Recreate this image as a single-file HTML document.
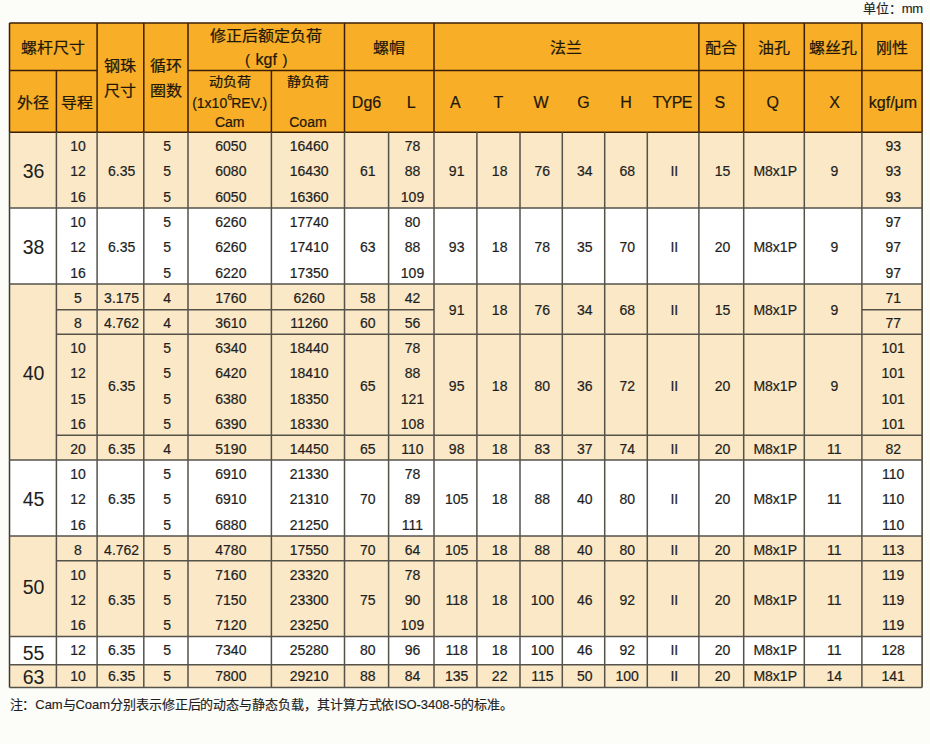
<!DOCTYPE html>
<html lang="zh-CN"><head><meta charset="utf-8"><title>table</title>
<style>
html,body{margin:0;padding:0;background:#FCFCF9;}
body{text-spacing-trim:space-all;width:930px;height:744px;position:relative;overflow:hidden;font-family:"Liberation Sans",sans-serif;}
svg{position:absolute;left:0;top:0;}
.t{position:absolute;display:flex;align-items:center;justify-content:center;white-space:nowrap;line-height:1;}
.t sup{font-size:9px;vertical-align:8px;line-height:0;margin:0 -1px 0 0;}
.t{-webkit-text-stroke:0.2px currentColor;}
.big{-webkit-text-stroke:0.05px currentColor;}
.c{-webkit-text-stroke:0.25px currentColor;transform:scaleY(0.93);}
.n{position:absolute;white-space:nowrap;}
</style></head><body>
<svg width="930" height="744" viewBox="0 0 930 744">
<rect x="9.50" y="23.00" width="912.60" height="109.20" fill="#F8AF27"/>
<rect x="9.50" y="132.25" width="912.60" height="75.70" fill="#FAE8C6"/>
<rect x="9.50" y="207.95" width="912.60" height="76.10" fill="#FFFFFF"/>
<rect x="9.50" y="284.05" width="912.60" height="175.90" fill="#FAE8C6"/>
<rect x="9.50" y="459.95" width="912.60" height="76.05" fill="#FFFFFF"/>
<rect x="9.50" y="536.00" width="912.60" height="100.55" fill="#FAE8C6"/>
<rect x="9.50" y="636.55" width="912.60" height="28.20" fill="#FFFFFF"/>
<rect x="9.50" y="664.75" width="912.60" height="22.80" fill="#FAE8C6"/>
<line x1="9.50" y1="23.00" x2="922.10" y2="23.00" stroke="#3a1e06" stroke-width="1.5"/>
<line x1="9.50" y1="70.40" x2="97.10" y2="70.40" stroke="#3a1e06" stroke-width="1.5"/>
<line x1="188.00" y1="70.40" x2="922.10" y2="70.40" stroke="#3a1e06" stroke-width="1.5"/>
<line x1="9.50" y1="23.00" x2="9.50" y2="132.20" stroke="#3a1e06" stroke-width="1.5"/>
<line x1="97.10" y1="23.00" x2="97.10" y2="132.20" stroke="#3a1e06" stroke-width="1.5"/>
<line x1="143.80" y1="23.00" x2="143.80" y2="132.20" stroke="#3a1e06" stroke-width="1.5"/>
<line x1="188.00" y1="23.00" x2="188.00" y2="132.20" stroke="#3a1e06" stroke-width="1.5"/>
<line x1="344.50" y1="23.00" x2="344.50" y2="132.20" stroke="#3a1e06" stroke-width="1.5"/>
<line x1="434.00" y1="23.00" x2="434.00" y2="132.20" stroke="#3a1e06" stroke-width="1.5"/>
<line x1="698.90" y1="23.00" x2="698.90" y2="132.20" stroke="#3a1e06" stroke-width="1.5"/>
<line x1="743.70" y1="23.00" x2="743.70" y2="132.20" stroke="#3a1e06" stroke-width="1.5"/>
<line x1="804.30" y1="23.00" x2="804.30" y2="132.20" stroke="#3a1e06" stroke-width="1.5"/>
<line x1="861.90" y1="23.00" x2="861.90" y2="132.20" stroke="#3a1e06" stroke-width="1.5"/>
<line x1="922.10" y1="23.00" x2="922.10" y2="132.20" stroke="#3a1e06" stroke-width="1.5"/>
<line x1="56.40" y1="70.40" x2="56.40" y2="132.20" stroke="#3a1e06" stroke-width="1.5"/>
<line x1="271.40" y1="70.40" x2="271.40" y2="132.20" stroke="#3a1e06" stroke-width="1.5"/>
<line x1="9.50" y1="132.20" x2="922.10" y2="132.20" stroke="#3a1e06" stroke-width="1.5"/>
<line x1="9.50" y1="132.25" x2="9.50" y2="687.55" stroke="#3d3a30" stroke-width="1.5"/>
<line x1="56.40" y1="132.25" x2="56.40" y2="687.55" stroke="#55524a" stroke-width="1.5"/>
<line x1="97.10" y1="132.25" x2="97.10" y2="687.55" stroke="#55524a" stroke-width="1.5"/>
<line x1="143.80" y1="132.25" x2="143.80" y2="687.55" stroke="#55524a" stroke-width="1.5"/>
<line x1="188.00" y1="132.25" x2="188.00" y2="687.55" stroke="#55524a" stroke-width="1.5"/>
<line x1="271.40" y1="132.25" x2="271.40" y2="687.55" stroke="#55524a" stroke-width="1.5"/>
<line x1="344.50" y1="132.25" x2="344.50" y2="687.55" stroke="#55524a" stroke-width="1.5"/>
<line x1="388.60" y1="132.25" x2="388.60" y2="687.55" stroke="#55524a" stroke-width="1.5"/>
<line x1="434.00" y1="132.25" x2="434.00" y2="687.55" stroke="#55524a" stroke-width="1.5"/>
<line x1="476.90" y1="132.25" x2="476.90" y2="687.55" stroke="#55524a" stroke-width="1.5"/>
<line x1="520.00" y1="132.25" x2="520.00" y2="687.55" stroke="#55524a" stroke-width="1.5"/>
<line x1="562.30" y1="132.25" x2="562.30" y2="687.55" stroke="#55524a" stroke-width="1.5"/>
<line x1="604.70" y1="132.25" x2="604.70" y2="687.55" stroke="#55524a" stroke-width="1.5"/>
<line x1="647.30" y1="132.25" x2="647.30" y2="687.55" stroke="#55524a" stroke-width="1.5"/>
<line x1="698.90" y1="132.25" x2="698.90" y2="687.55" stroke="#55524a" stroke-width="1.5"/>
<line x1="743.70" y1="132.25" x2="743.70" y2="687.55" stroke="#55524a" stroke-width="1.5"/>
<line x1="804.30" y1="132.25" x2="804.30" y2="687.55" stroke="#55524a" stroke-width="1.5"/>
<line x1="861.90" y1="132.25" x2="861.90" y2="687.55" stroke="#55524a" stroke-width="1.5"/>
<line x1="922.10" y1="132.25" x2="922.10" y2="687.55" stroke="#3d3a30" stroke-width="1.5"/>
<line x1="9.50" y1="207.95" x2="922.10" y2="207.95" stroke="#55524a" stroke-width="1.5"/>
<line x1="9.50" y1="284.05" x2="922.10" y2="284.05" stroke="#55524a" stroke-width="1.5"/>
<line x1="9.50" y1="459.95" x2="922.10" y2="459.95" stroke="#55524a" stroke-width="1.5"/>
<line x1="9.50" y1="536.00" x2="922.10" y2="536.00" stroke="#55524a" stroke-width="1.5"/>
<line x1="9.50" y1="636.55" x2="922.10" y2="636.55" stroke="#55524a" stroke-width="1.5"/>
<line x1="9.50" y1="664.75" x2="922.10" y2="664.75" stroke="#55524a" stroke-width="1.5"/>
<line x1="9.50" y1="687.55" x2="922.10" y2="687.55" stroke="#55524a" stroke-width="1.5"/>
<line x1="56.40" y1="309.65" x2="434.00" y2="309.65" stroke="#55524a" stroke-width="1.5"/>
<line x1="861.90" y1="309.65" x2="922.10" y2="309.65" stroke="#55524a" stroke-width="1.5"/>
<line x1="56.40" y1="334.25" x2="922.10" y2="334.25" stroke="#55524a" stroke-width="1.5"/>
<line x1="56.40" y1="435.15" x2="922.10" y2="435.15" stroke="#55524a" stroke-width="1.5"/>
<line x1="56.40" y1="560.75" x2="922.10" y2="560.75" stroke="#55524a" stroke-width="1.5"/>
</svg>
<div class="t c" style="left:9.50px;width:87.60px;top:32.80px;height:30px;font-size:16px;color:#22180a;"><span>螺杆尺寸</span></div>
<div class="t c" style="left:97.10px;width:46.70px;top:51.00px;height:30px;font-size:16px;color:#22180a;"><span>钢珠</span></div>
<div class="t c" style="left:97.10px;width:46.70px;top:75.50px;height:30px;font-size:16px;color:#22180a;"><span>尺寸</span></div>
<div class="t c" style="left:143.80px;width:44.20px;top:51.00px;height:30px;font-size:16px;color:#22180a;"><span>循环</span></div>
<div class="t c" style="left:143.80px;width:44.20px;top:75.50px;height:30px;font-size:16px;color:#22180a;"><span>圈数</span></div>
<div class="t c" style="left:188.00px;width:156.50px;top:21.30px;height:30px;font-size:16px;color:#22180a;"><span>修正后额定负荷</span></div>
<div class="t" style="left:188.00px;width:156.50px;top:45.20px;height:30px;font-size:16px;color:#22180a;"><span><i style="font-style:normal;font-size:15px">(</i><i style="font-style:normal;margin:0 5.5px">kgf</i><i style="font-style:normal;font-size:15px">)</i></span></div>
<div class="t c" style="left:344.50px;width:89.50px;top:32.80px;height:30px;font-size:16px;color:#22180a;"><span>螺帽</span></div>
<div class="t c" style="left:434.00px;width:264.90px;top:32.80px;height:30px;font-size:16px;color:#22180a;"><span>法兰</span></div>
<div class="t c" style="left:698.90px;width:44.80px;top:32.80px;height:30px;font-size:16px;color:#22180a;"><span>配合</span></div>
<div class="t c" style="left:743.70px;width:60.60px;top:32.80px;height:30px;font-size:16px;color:#22180a;"><span>油孔</span></div>
<div class="t c" style="left:804.30px;width:57.60px;top:32.80px;height:30px;font-size:16px;color:#22180a;"><span>螺丝孔</span></div>
<div class="t c" style="left:861.90px;width:60.20px;top:32.80px;height:30px;font-size:16px;color:#22180a;"><span>刚性</span></div>
<div class="t c" style="left:9.50px;width:46.90px;top:87.80px;height:30px;font-size:16px;color:#22180a;"><span>外径</span></div>
<div class="t c" style="left:56.40px;width:40.70px;top:87.80px;height:30px;font-size:16px;color:#22180a;"><span>导程</span></div>
<div class="t c" style="left:188.00px;width:83.40px;top:66.10px;height:30px;font-size:14px;color:#22180a;"><span>动负荷</span></div>
<div class="t c" style="left:271.40px;width:73.10px;top:66.10px;height:30px;font-size:14px;color:#22180a;"><span>静负荷</span></div>
<div class="t" style="left:188.00px;width:83.40px;top:88.20px;height:30px;font-size:14px;color:#22180a;"><span>(1x10<sup>6</sup>REV.)</span></div>
<div class="t" style="left:188.00px;width:83.40px;top:107.40px;height:30px;font-size:14px;color:#22180a;"><span>Cam</span></div>
<div class="t" style="left:271.40px;width:73.10px;top:107.40px;height:30px;font-size:14px;color:#22180a;"><span>Coam</span></div>
<div class="t" style="left:344.50px;width:44.10px;top:87.60px;height:30px;font-size:16px;color:#22180a;"><span>Dg6</span></div>
<div class="t" style="left:388.60px;width:45.40px;top:87.60px;height:30px;font-size:16px;color:#22180a;"><span>L</span></div>
<div class="t" style="left:434.00px;width:42.90px;top:87.60px;height:30px;font-size:16px;color:#22180a;"><span>A</span></div>
<div class="t" style="left:476.90px;width:43.10px;top:87.60px;height:30px;font-size:16px;color:#22180a;"><span>T</span></div>
<div class="t" style="left:520.00px;width:42.30px;top:87.60px;height:30px;font-size:16px;color:#22180a;"><span>W</span></div>
<div class="t" style="left:562.30px;width:42.40px;top:87.60px;height:30px;font-size:16px;color:#22180a;"><span>G</span></div>
<div class="t" style="left:604.70px;width:42.60px;top:87.60px;height:30px;font-size:16px;color:#22180a;"><span>H</span></div>
<div class="t" style="left:646.30px;width:51.60px;top:87.60px;height:30px;font-size:16px;color:#22180a;letter-spacing:-0.6px;"><span>TYPE</span></div>
<div class="t" style="left:697.40px;width:44.80px;top:87.60px;height:30px;font-size:16px;color:#22180a;"><span>S</span></div>
<div class="t" style="left:742.50px;width:60.60px;top:87.60px;height:30px;font-size:16px;color:#22180a;"><span>Q</span></div>
<div class="t" style="left:805.80px;width:57.60px;top:87.60px;height:30px;font-size:16px;color:#22180a;"><span>X</span></div>
<div class="t" style="left:862.90px;width:60.20px;top:87.60px;height:30px;font-size:16px;color:#22180a;"><span>kgf/μm</span></div>
<div class="t big" style="left:10.10px;width:46.90px;top:156.60px;height:30px;font-size:19.5px;color:#1e1e1e;"><span>36</span></div>
<div class="t big" style="left:10.10px;width:46.90px;top:232.50px;height:30px;font-size:19.5px;color:#1e1e1e;"><span>38</span></div>
<div class="t big" style="left:10.10px;width:46.90px;top:358.50px;height:30px;font-size:19.5px;color:#1e1e1e;"><span>40</span></div>
<div class="t big" style="left:10.10px;width:46.90px;top:484.48px;height:30px;font-size:19.5px;color:#1e1e1e;"><span>45</span></div>
<div class="t big" style="left:10.10px;width:46.90px;top:572.77px;height:30px;font-size:19.5px;color:#1e1e1e;"><span>50</span></div>
<div class="t big" style="left:10.10px;width:46.90px;top:638.65px;height:30px;font-size:19.5px;color:#1e1e1e;"><span>55</span></div>
<div class="t big" style="left:10.10px;width:46.90px;top:662.35px;height:30px;font-size:19.5px;color:#1e1e1e;"><span>63</span></div>
<div class="t" style="left:57.60px;width:40.70px;top:131.07px;height:30px;font-size:14px;color:#1e1e1e;"><span>10</span></div>
<div class="t" style="left:57.60px;width:40.70px;top:156.30px;height:30px;font-size:14px;color:#1e1e1e;"><span>12</span></div>
<div class="t" style="left:57.60px;width:40.70px;top:181.53px;height:30px;font-size:14px;color:#1e1e1e;"><span>16</span></div>
<div class="t" style="left:98.30px;width:46.70px;top:156.30px;height:30px;font-size:14px;color:#1e1e1e;"><span>6.35</span></div>
<div class="t" style="left:145.00px;width:44.20px;top:131.07px;height:30px;font-size:14px;color:#1e1e1e;"><span>5</span></div>
<div class="t" style="left:145.00px;width:44.20px;top:156.30px;height:30px;font-size:14px;color:#1e1e1e;"><span>5</span></div>
<div class="t" style="left:145.00px;width:44.20px;top:181.53px;height:30px;font-size:14px;color:#1e1e1e;"><span>5</span></div>
<div class="t" style="left:189.20px;width:83.40px;top:131.07px;height:30px;font-size:14px;color:#1e1e1e;"><span>6050</span></div>
<div class="t" style="left:189.20px;width:83.40px;top:156.30px;height:30px;font-size:14px;color:#1e1e1e;"><span>6080</span></div>
<div class="t" style="left:189.20px;width:83.40px;top:181.53px;height:30px;font-size:14px;color:#1e1e1e;"><span>6050</span></div>
<div class="t" style="left:272.60px;width:73.10px;top:131.07px;height:30px;font-size:14px;color:#1e1e1e;"><span>16460</span></div>
<div class="t" style="left:272.60px;width:73.10px;top:156.30px;height:30px;font-size:14px;color:#1e1e1e;"><span>16430</span></div>
<div class="t" style="left:272.60px;width:73.10px;top:181.53px;height:30px;font-size:14px;color:#1e1e1e;"><span>16360</span></div>
<div class="t" style="left:345.70px;width:44.10px;top:156.30px;height:30px;font-size:14px;color:#1e1e1e;"><span>61</span></div>
<div class="t" style="left:389.80px;width:45.40px;top:131.07px;height:30px;font-size:14px;color:#1e1e1e;"><span>78</span></div>
<div class="t" style="left:389.80px;width:45.40px;top:156.30px;height:30px;font-size:14px;color:#1e1e1e;"><span>88</span></div>
<div class="t" style="left:389.80px;width:45.40px;top:181.53px;height:30px;font-size:14px;color:#1e1e1e;"><span>109</span></div>
<div class="t" style="left:435.20px;width:42.90px;top:156.30px;height:30px;font-size:14px;color:#1e1e1e;"><span>91</span></div>
<div class="t" style="left:478.10px;width:43.10px;top:156.30px;height:30px;font-size:14px;color:#1e1e1e;"><span>18</span></div>
<div class="t" style="left:521.20px;width:42.30px;top:156.30px;height:30px;font-size:14px;color:#1e1e1e;"><span>76</span></div>
<div class="t" style="left:563.50px;width:42.40px;top:156.30px;height:30px;font-size:14px;color:#1e1e1e;"><span>34</span></div>
<div class="t" style="left:605.90px;width:42.60px;top:156.30px;height:30px;font-size:14px;color:#1e1e1e;"><span>68</span></div>
<div class="t" style="left:648.50px;width:51.60px;top:156.30px;height:30px;font-size:14px;color:#1e1e1e;"><span>II</span></div>
<div class="t" style="left:700.10px;width:44.80px;top:156.30px;height:30px;font-size:14px;color:#1e1e1e;"><span>15</span></div>
<div class="t" style="left:744.90px;width:60.60px;top:156.30px;height:30px;font-size:14px;color:#1e1e1e;"><span>M8x1P</span></div>
<div class="t" style="left:805.50px;width:57.60px;top:156.30px;height:30px;font-size:14px;color:#1e1e1e;"><span>9</span></div>
<div class="t" style="left:863.10px;width:60.20px;top:131.07px;height:30px;font-size:14px;color:#1e1e1e;"><span>93</span></div>
<div class="t" style="left:863.10px;width:60.20px;top:156.30px;height:30px;font-size:14px;color:#1e1e1e;"><span>93</span></div>
<div class="t" style="left:863.10px;width:60.20px;top:181.53px;height:30px;font-size:14px;color:#1e1e1e;"><span>93</span></div>
<div class="t" style="left:57.60px;width:40.70px;top:206.83px;height:30px;font-size:14px;color:#1e1e1e;"><span>10</span></div>
<div class="t" style="left:57.60px;width:40.70px;top:232.20px;height:30px;font-size:14px;color:#1e1e1e;"><span>12</span></div>
<div class="t" style="left:57.60px;width:40.70px;top:257.57px;height:30px;font-size:14px;color:#1e1e1e;"><span>16</span></div>
<div class="t" style="left:98.30px;width:46.70px;top:232.20px;height:30px;font-size:14px;color:#1e1e1e;"><span>6.35</span></div>
<div class="t" style="left:145.00px;width:44.20px;top:206.83px;height:30px;font-size:14px;color:#1e1e1e;"><span>5</span></div>
<div class="t" style="left:145.00px;width:44.20px;top:232.20px;height:30px;font-size:14px;color:#1e1e1e;"><span>5</span></div>
<div class="t" style="left:145.00px;width:44.20px;top:257.57px;height:30px;font-size:14px;color:#1e1e1e;"><span>5</span></div>
<div class="t" style="left:189.20px;width:83.40px;top:206.83px;height:30px;font-size:14px;color:#1e1e1e;"><span>6260</span></div>
<div class="t" style="left:189.20px;width:83.40px;top:232.20px;height:30px;font-size:14px;color:#1e1e1e;"><span>6260</span></div>
<div class="t" style="left:189.20px;width:83.40px;top:257.57px;height:30px;font-size:14px;color:#1e1e1e;"><span>6220</span></div>
<div class="t" style="left:272.60px;width:73.10px;top:206.83px;height:30px;font-size:14px;color:#1e1e1e;"><span>17740</span></div>
<div class="t" style="left:272.60px;width:73.10px;top:232.20px;height:30px;font-size:14px;color:#1e1e1e;"><span>17410</span></div>
<div class="t" style="left:272.60px;width:73.10px;top:257.57px;height:30px;font-size:14px;color:#1e1e1e;"><span>17350</span></div>
<div class="t" style="left:345.70px;width:44.10px;top:232.20px;height:30px;font-size:14px;color:#1e1e1e;"><span>63</span></div>
<div class="t" style="left:389.80px;width:45.40px;top:206.83px;height:30px;font-size:14px;color:#1e1e1e;"><span>80</span></div>
<div class="t" style="left:389.80px;width:45.40px;top:232.20px;height:30px;font-size:14px;color:#1e1e1e;"><span>88</span></div>
<div class="t" style="left:389.80px;width:45.40px;top:257.57px;height:30px;font-size:14px;color:#1e1e1e;"><span>109</span></div>
<div class="t" style="left:435.20px;width:42.90px;top:232.20px;height:30px;font-size:14px;color:#1e1e1e;"><span>93</span></div>
<div class="t" style="left:478.10px;width:43.10px;top:232.20px;height:30px;font-size:14px;color:#1e1e1e;"><span>18</span></div>
<div class="t" style="left:521.20px;width:42.30px;top:232.20px;height:30px;font-size:14px;color:#1e1e1e;"><span>78</span></div>
<div class="t" style="left:563.50px;width:42.40px;top:232.20px;height:30px;font-size:14px;color:#1e1e1e;"><span>35</span></div>
<div class="t" style="left:605.90px;width:42.60px;top:232.20px;height:30px;font-size:14px;color:#1e1e1e;"><span>70</span></div>
<div class="t" style="left:648.50px;width:51.60px;top:232.20px;height:30px;font-size:14px;color:#1e1e1e;"><span>II</span></div>
<div class="t" style="left:700.10px;width:44.80px;top:232.20px;height:30px;font-size:14px;color:#1e1e1e;"><span>20</span></div>
<div class="t" style="left:744.90px;width:60.60px;top:232.20px;height:30px;font-size:14px;color:#1e1e1e;"><span>M8x1P</span></div>
<div class="t" style="left:805.50px;width:57.60px;top:232.20px;height:30px;font-size:14px;color:#1e1e1e;"><span>9</span></div>
<div class="t" style="left:863.10px;width:60.20px;top:206.83px;height:30px;font-size:14px;color:#1e1e1e;"><span>97</span></div>
<div class="t" style="left:863.10px;width:60.20px;top:232.20px;height:30px;font-size:14px;color:#1e1e1e;"><span>97</span></div>
<div class="t" style="left:863.10px;width:60.20px;top:257.57px;height:30px;font-size:14px;color:#1e1e1e;"><span>97</span></div>
<div class="t" style="left:57.60px;width:40.70px;top:283.05px;height:30px;font-size:14px;color:#1e1e1e;"><span>5</span></div>
<div class="t" style="left:57.60px;width:40.70px;top:308.15px;height:30px;font-size:14px;color:#1e1e1e;"><span>8</span></div>
<div class="t" style="left:98.30px;width:46.70px;top:283.05px;height:30px;font-size:14px;color:#1e1e1e;"><span>3.175</span></div>
<div class="t" style="left:98.30px;width:46.70px;top:308.15px;height:30px;font-size:14px;color:#1e1e1e;"><span>4.762</span></div>
<div class="t" style="left:145.00px;width:44.20px;top:283.05px;height:30px;font-size:14px;color:#1e1e1e;"><span>4</span></div>
<div class="t" style="left:145.00px;width:44.20px;top:308.15px;height:30px;font-size:14px;color:#1e1e1e;"><span>4</span></div>
<div class="t" style="left:189.20px;width:83.40px;top:283.05px;height:30px;font-size:14px;color:#1e1e1e;"><span>1760</span></div>
<div class="t" style="left:189.20px;width:83.40px;top:308.15px;height:30px;font-size:14px;color:#1e1e1e;"><span>3610</span></div>
<div class="t" style="left:272.60px;width:73.10px;top:283.05px;height:30px;font-size:14px;color:#1e1e1e;"><span>6260</span></div>
<div class="t" style="left:272.60px;width:73.10px;top:308.15px;height:30px;font-size:14px;color:#1e1e1e;"><span>11260</span></div>
<div class="t" style="left:345.70px;width:44.10px;top:283.05px;height:30px;font-size:14px;color:#1e1e1e;"><span>58</span></div>
<div class="t" style="left:345.70px;width:44.10px;top:308.15px;height:30px;font-size:14px;color:#1e1e1e;"><span>60</span></div>
<div class="t" style="left:389.80px;width:45.40px;top:283.05px;height:30px;font-size:14px;color:#1e1e1e;"><span>42</span></div>
<div class="t" style="left:389.80px;width:45.40px;top:308.15px;height:30px;font-size:14px;color:#1e1e1e;"><span>56</span></div>
<div class="t" style="left:435.20px;width:42.90px;top:295.35px;height:30px;font-size:14px;color:#1e1e1e;"><span>91</span></div>
<div class="t" style="left:478.10px;width:43.10px;top:295.35px;height:30px;font-size:14px;color:#1e1e1e;"><span>18</span></div>
<div class="t" style="left:521.20px;width:42.30px;top:295.35px;height:30px;font-size:14px;color:#1e1e1e;"><span>76</span></div>
<div class="t" style="left:563.50px;width:42.40px;top:295.35px;height:30px;font-size:14px;color:#1e1e1e;"><span>34</span></div>
<div class="t" style="left:605.90px;width:42.60px;top:295.35px;height:30px;font-size:14px;color:#1e1e1e;"><span>68</span></div>
<div class="t" style="left:648.50px;width:51.60px;top:295.35px;height:30px;font-size:14px;color:#1e1e1e;"><span>II</span></div>
<div class="t" style="left:700.10px;width:44.80px;top:295.35px;height:30px;font-size:14px;color:#1e1e1e;"><span>15</span></div>
<div class="t" style="left:744.90px;width:60.60px;top:295.35px;height:30px;font-size:14px;color:#1e1e1e;"><span>M8x1P</span></div>
<div class="t" style="left:805.50px;width:57.60px;top:295.35px;height:30px;font-size:14px;color:#1e1e1e;"><span>9</span></div>
<div class="t" style="left:863.10px;width:60.20px;top:283.05px;height:30px;font-size:14px;color:#1e1e1e;"><span>71</span></div>
<div class="t" style="left:863.10px;width:60.20px;top:308.15px;height:30px;font-size:14px;color:#1e1e1e;"><span>77</span></div>
<div class="t" style="left:57.60px;width:40.70px;top:333.06px;height:30px;font-size:14px;color:#1e1e1e;"><span>10</span></div>
<div class="t" style="left:57.60px;width:40.70px;top:358.29px;height:30px;font-size:14px;color:#1e1e1e;"><span>12</span></div>
<div class="t" style="left:57.60px;width:40.70px;top:383.51px;height:30px;font-size:14px;color:#1e1e1e;"><span>15</span></div>
<div class="t" style="left:57.60px;width:40.70px;top:408.74px;height:30px;font-size:14px;color:#1e1e1e;"><span>16</span></div>
<div class="t" style="left:98.30px;width:46.70px;top:370.90px;height:30px;font-size:14px;color:#1e1e1e;"><span>6.35</span></div>
<div class="t" style="left:145.00px;width:44.20px;top:333.06px;height:30px;font-size:14px;color:#1e1e1e;"><span>5</span></div>
<div class="t" style="left:145.00px;width:44.20px;top:358.29px;height:30px;font-size:14px;color:#1e1e1e;"><span>5</span></div>
<div class="t" style="left:145.00px;width:44.20px;top:383.51px;height:30px;font-size:14px;color:#1e1e1e;"><span>5</span></div>
<div class="t" style="left:145.00px;width:44.20px;top:408.74px;height:30px;font-size:14px;color:#1e1e1e;"><span>5</span></div>
<div class="t" style="left:189.20px;width:83.40px;top:333.06px;height:30px;font-size:14px;color:#1e1e1e;"><span>6340</span></div>
<div class="t" style="left:189.20px;width:83.40px;top:358.29px;height:30px;font-size:14px;color:#1e1e1e;"><span>6420</span></div>
<div class="t" style="left:189.20px;width:83.40px;top:383.51px;height:30px;font-size:14px;color:#1e1e1e;"><span>6380</span></div>
<div class="t" style="left:189.20px;width:83.40px;top:408.74px;height:30px;font-size:14px;color:#1e1e1e;"><span>6390</span></div>
<div class="t" style="left:272.60px;width:73.10px;top:333.06px;height:30px;font-size:14px;color:#1e1e1e;"><span>18440</span></div>
<div class="t" style="left:272.60px;width:73.10px;top:358.29px;height:30px;font-size:14px;color:#1e1e1e;"><span>18410</span></div>
<div class="t" style="left:272.60px;width:73.10px;top:383.51px;height:30px;font-size:14px;color:#1e1e1e;"><span>18350</span></div>
<div class="t" style="left:272.60px;width:73.10px;top:408.74px;height:30px;font-size:14px;color:#1e1e1e;"><span>18330</span></div>
<div class="t" style="left:345.70px;width:44.10px;top:370.90px;height:30px;font-size:14px;color:#1e1e1e;"><span>65</span></div>
<div class="t" style="left:389.80px;width:45.40px;top:333.06px;height:30px;font-size:14px;color:#1e1e1e;"><span>78</span></div>
<div class="t" style="left:389.80px;width:45.40px;top:358.29px;height:30px;font-size:14px;color:#1e1e1e;"><span>88</span></div>
<div class="t" style="left:389.80px;width:45.40px;top:383.51px;height:30px;font-size:14px;color:#1e1e1e;"><span>121</span></div>
<div class="t" style="left:389.80px;width:45.40px;top:408.74px;height:30px;font-size:14px;color:#1e1e1e;"><span>108</span></div>
<div class="t" style="left:435.20px;width:42.90px;top:370.90px;height:30px;font-size:14px;color:#1e1e1e;"><span>95</span></div>
<div class="t" style="left:478.10px;width:43.10px;top:370.90px;height:30px;font-size:14px;color:#1e1e1e;"><span>18</span></div>
<div class="t" style="left:521.20px;width:42.30px;top:370.90px;height:30px;font-size:14px;color:#1e1e1e;"><span>80</span></div>
<div class="t" style="left:563.50px;width:42.40px;top:370.90px;height:30px;font-size:14px;color:#1e1e1e;"><span>36</span></div>
<div class="t" style="left:605.90px;width:42.60px;top:370.90px;height:30px;font-size:14px;color:#1e1e1e;"><span>72</span></div>
<div class="t" style="left:648.50px;width:51.60px;top:370.90px;height:30px;font-size:14px;color:#1e1e1e;"><span>II</span></div>
<div class="t" style="left:700.10px;width:44.80px;top:370.90px;height:30px;font-size:14px;color:#1e1e1e;"><span>20</span></div>
<div class="t" style="left:744.90px;width:60.60px;top:370.90px;height:30px;font-size:14px;color:#1e1e1e;"><span>M8x1P</span></div>
<div class="t" style="left:805.50px;width:57.60px;top:370.90px;height:30px;font-size:14px;color:#1e1e1e;"><span>9</span></div>
<div class="t" style="left:863.10px;width:60.20px;top:333.06px;height:30px;font-size:14px;color:#1e1e1e;"><span>101</span></div>
<div class="t" style="left:863.10px;width:60.20px;top:358.29px;height:30px;font-size:14px;color:#1e1e1e;"><span>101</span></div>
<div class="t" style="left:863.10px;width:60.20px;top:383.51px;height:30px;font-size:14px;color:#1e1e1e;"><span>101</span></div>
<div class="t" style="left:863.10px;width:60.20px;top:408.74px;height:30px;font-size:14px;color:#1e1e1e;"><span>101</span></div>
<div class="t" style="left:57.60px;width:40.70px;top:433.75px;height:30px;font-size:14px;color:#1e1e1e;"><span>20</span></div>
<div class="t" style="left:98.30px;width:46.70px;top:433.75px;height:30px;font-size:14px;color:#1e1e1e;"><span>6.35</span></div>
<div class="t" style="left:145.00px;width:44.20px;top:433.75px;height:30px;font-size:14px;color:#1e1e1e;"><span>4</span></div>
<div class="t" style="left:189.20px;width:83.40px;top:433.75px;height:30px;font-size:14px;color:#1e1e1e;"><span>5190</span></div>
<div class="t" style="left:272.60px;width:73.10px;top:433.75px;height:30px;font-size:14px;color:#1e1e1e;"><span>14450</span></div>
<div class="t" style="left:345.70px;width:44.10px;top:433.75px;height:30px;font-size:14px;color:#1e1e1e;"><span>65</span></div>
<div class="t" style="left:389.80px;width:45.40px;top:433.75px;height:30px;font-size:14px;color:#1e1e1e;"><span>110</span></div>
<div class="t" style="left:435.20px;width:42.90px;top:433.75px;height:30px;font-size:14px;color:#1e1e1e;"><span>98</span></div>
<div class="t" style="left:478.10px;width:43.10px;top:433.75px;height:30px;font-size:14px;color:#1e1e1e;"><span>18</span></div>
<div class="t" style="left:521.20px;width:42.30px;top:433.75px;height:30px;font-size:14px;color:#1e1e1e;"><span>83</span></div>
<div class="t" style="left:563.50px;width:42.40px;top:433.75px;height:30px;font-size:14px;color:#1e1e1e;"><span>37</span></div>
<div class="t" style="left:605.90px;width:42.60px;top:433.75px;height:30px;font-size:14px;color:#1e1e1e;"><span>74</span></div>
<div class="t" style="left:648.50px;width:51.60px;top:433.75px;height:30px;font-size:14px;color:#1e1e1e;"><span>II</span></div>
<div class="t" style="left:700.10px;width:44.80px;top:433.75px;height:30px;font-size:14px;color:#1e1e1e;"><span>20</span></div>
<div class="t" style="left:744.90px;width:60.60px;top:433.75px;height:30px;font-size:14px;color:#1e1e1e;"><span>M8x1P</span></div>
<div class="t" style="left:805.50px;width:57.60px;top:433.75px;height:30px;font-size:14px;color:#1e1e1e;"><span>11</span></div>
<div class="t" style="left:863.10px;width:60.20px;top:433.75px;height:30px;font-size:14px;color:#1e1e1e;"><span>82</span></div>
<div class="t" style="left:57.60px;width:40.70px;top:458.82px;height:30px;font-size:14px;color:#1e1e1e;"><span>10</span></div>
<div class="t" style="left:57.60px;width:40.70px;top:484.18px;height:30px;font-size:14px;color:#1e1e1e;"><span>12</span></div>
<div class="t" style="left:57.60px;width:40.70px;top:509.53px;height:30px;font-size:14px;color:#1e1e1e;"><span>16</span></div>
<div class="t" style="left:98.30px;width:46.70px;top:484.18px;height:30px;font-size:14px;color:#1e1e1e;"><span>6.35</span></div>
<div class="t" style="left:145.00px;width:44.20px;top:458.82px;height:30px;font-size:14px;color:#1e1e1e;"><span>5</span></div>
<div class="t" style="left:145.00px;width:44.20px;top:484.18px;height:30px;font-size:14px;color:#1e1e1e;"><span>5</span></div>
<div class="t" style="left:145.00px;width:44.20px;top:509.53px;height:30px;font-size:14px;color:#1e1e1e;"><span>5</span></div>
<div class="t" style="left:189.20px;width:83.40px;top:458.82px;height:30px;font-size:14px;color:#1e1e1e;"><span>6910</span></div>
<div class="t" style="left:189.20px;width:83.40px;top:484.18px;height:30px;font-size:14px;color:#1e1e1e;"><span>6910</span></div>
<div class="t" style="left:189.20px;width:83.40px;top:509.53px;height:30px;font-size:14px;color:#1e1e1e;"><span>6880</span></div>
<div class="t" style="left:272.60px;width:73.10px;top:458.82px;height:30px;font-size:14px;color:#1e1e1e;"><span>21330</span></div>
<div class="t" style="left:272.60px;width:73.10px;top:484.18px;height:30px;font-size:14px;color:#1e1e1e;"><span>21310</span></div>
<div class="t" style="left:272.60px;width:73.10px;top:509.53px;height:30px;font-size:14px;color:#1e1e1e;"><span>21250</span></div>
<div class="t" style="left:345.70px;width:44.10px;top:484.18px;height:30px;font-size:14px;color:#1e1e1e;"><span>70</span></div>
<div class="t" style="left:389.80px;width:45.40px;top:458.82px;height:30px;font-size:14px;color:#1e1e1e;"><span>78</span></div>
<div class="t" style="left:389.80px;width:45.40px;top:484.18px;height:30px;font-size:14px;color:#1e1e1e;"><span>89</span></div>
<div class="t" style="left:389.80px;width:45.40px;top:509.53px;height:30px;font-size:14px;color:#1e1e1e;"><span>111</span></div>
<div class="t" style="left:435.20px;width:42.90px;top:484.18px;height:30px;font-size:14px;color:#1e1e1e;"><span>105</span></div>
<div class="t" style="left:478.10px;width:43.10px;top:484.18px;height:30px;font-size:14px;color:#1e1e1e;"><span>18</span></div>
<div class="t" style="left:521.20px;width:42.30px;top:484.18px;height:30px;font-size:14px;color:#1e1e1e;"><span>88</span></div>
<div class="t" style="left:563.50px;width:42.40px;top:484.18px;height:30px;font-size:14px;color:#1e1e1e;"><span>40</span></div>
<div class="t" style="left:605.90px;width:42.60px;top:484.18px;height:30px;font-size:14px;color:#1e1e1e;"><span>80</span></div>
<div class="t" style="left:648.50px;width:51.60px;top:484.18px;height:30px;font-size:14px;color:#1e1e1e;"><span>II</span></div>
<div class="t" style="left:700.10px;width:44.80px;top:484.18px;height:30px;font-size:14px;color:#1e1e1e;"><span>20</span></div>
<div class="t" style="left:744.90px;width:60.60px;top:484.18px;height:30px;font-size:14px;color:#1e1e1e;"><span>M8x1P</span></div>
<div class="t" style="left:805.50px;width:57.60px;top:484.18px;height:30px;font-size:14px;color:#1e1e1e;"><span>11</span></div>
<div class="t" style="left:863.10px;width:60.20px;top:458.82px;height:30px;font-size:14px;color:#1e1e1e;"><span>110</span></div>
<div class="t" style="left:863.10px;width:60.20px;top:484.18px;height:30px;font-size:14px;color:#1e1e1e;"><span>110</span></div>
<div class="t" style="left:863.10px;width:60.20px;top:509.53px;height:30px;font-size:14px;color:#1e1e1e;"><span>110</span></div>
<div class="t" style="left:57.60px;width:40.70px;top:534.58px;height:30px;font-size:14px;color:#1e1e1e;"><span>8</span></div>
<div class="t" style="left:98.30px;width:46.70px;top:534.58px;height:30px;font-size:14px;color:#1e1e1e;"><span>4.762</span></div>
<div class="t" style="left:145.00px;width:44.20px;top:534.58px;height:30px;font-size:14px;color:#1e1e1e;"><span>5</span></div>
<div class="t" style="left:189.20px;width:83.40px;top:534.58px;height:30px;font-size:14px;color:#1e1e1e;"><span>4780</span></div>
<div class="t" style="left:272.60px;width:73.10px;top:534.58px;height:30px;font-size:14px;color:#1e1e1e;"><span>17550</span></div>
<div class="t" style="left:345.70px;width:44.10px;top:534.58px;height:30px;font-size:14px;color:#1e1e1e;"><span>70</span></div>
<div class="t" style="left:389.80px;width:45.40px;top:534.58px;height:30px;font-size:14px;color:#1e1e1e;"><span>64</span></div>
<div class="t" style="left:435.20px;width:42.90px;top:534.58px;height:30px;font-size:14px;color:#1e1e1e;"><span>105</span></div>
<div class="t" style="left:478.10px;width:43.10px;top:534.58px;height:30px;font-size:14px;color:#1e1e1e;"><span>18</span></div>
<div class="t" style="left:521.20px;width:42.30px;top:534.58px;height:30px;font-size:14px;color:#1e1e1e;"><span>88</span></div>
<div class="t" style="left:563.50px;width:42.40px;top:534.58px;height:30px;font-size:14px;color:#1e1e1e;"><span>40</span></div>
<div class="t" style="left:605.90px;width:42.60px;top:534.58px;height:30px;font-size:14px;color:#1e1e1e;"><span>80</span></div>
<div class="t" style="left:648.50px;width:51.60px;top:534.58px;height:30px;font-size:14px;color:#1e1e1e;"><span>II</span></div>
<div class="t" style="left:700.10px;width:44.80px;top:534.58px;height:30px;font-size:14px;color:#1e1e1e;"><span>20</span></div>
<div class="t" style="left:744.90px;width:60.60px;top:534.58px;height:30px;font-size:14px;color:#1e1e1e;"><span>M8x1P</span></div>
<div class="t" style="left:805.50px;width:57.60px;top:534.58px;height:30px;font-size:14px;color:#1e1e1e;"><span>11</span></div>
<div class="t" style="left:863.10px;width:60.20px;top:534.58px;height:30px;font-size:14px;color:#1e1e1e;"><span>113</span></div>
<div class="t" style="left:57.60px;width:40.70px;top:559.58px;height:30px;font-size:14px;color:#1e1e1e;"><span>10</span></div>
<div class="t" style="left:57.60px;width:40.70px;top:584.85px;height:30px;font-size:14px;color:#1e1e1e;"><span>12</span></div>
<div class="t" style="left:57.60px;width:40.70px;top:610.12px;height:30px;font-size:14px;color:#1e1e1e;"><span>16</span></div>
<div class="t" style="left:98.30px;width:46.70px;top:584.85px;height:30px;font-size:14px;color:#1e1e1e;"><span>6.35</span></div>
<div class="t" style="left:145.00px;width:44.20px;top:559.58px;height:30px;font-size:14px;color:#1e1e1e;"><span>5</span></div>
<div class="t" style="left:145.00px;width:44.20px;top:584.85px;height:30px;font-size:14px;color:#1e1e1e;"><span>5</span></div>
<div class="t" style="left:145.00px;width:44.20px;top:610.12px;height:30px;font-size:14px;color:#1e1e1e;"><span>5</span></div>
<div class="t" style="left:189.20px;width:83.40px;top:559.58px;height:30px;font-size:14px;color:#1e1e1e;"><span>7160</span></div>
<div class="t" style="left:189.20px;width:83.40px;top:584.85px;height:30px;font-size:14px;color:#1e1e1e;"><span>7150</span></div>
<div class="t" style="left:189.20px;width:83.40px;top:610.12px;height:30px;font-size:14px;color:#1e1e1e;"><span>7120</span></div>
<div class="t" style="left:272.60px;width:73.10px;top:559.58px;height:30px;font-size:14px;color:#1e1e1e;"><span>23320</span></div>
<div class="t" style="left:272.60px;width:73.10px;top:584.85px;height:30px;font-size:14px;color:#1e1e1e;"><span>23300</span></div>
<div class="t" style="left:272.60px;width:73.10px;top:610.12px;height:30px;font-size:14px;color:#1e1e1e;"><span>23250</span></div>
<div class="t" style="left:345.70px;width:44.10px;top:584.85px;height:30px;font-size:14px;color:#1e1e1e;"><span>75</span></div>
<div class="t" style="left:389.80px;width:45.40px;top:559.58px;height:30px;font-size:14px;color:#1e1e1e;"><span>78</span></div>
<div class="t" style="left:389.80px;width:45.40px;top:584.85px;height:30px;font-size:14px;color:#1e1e1e;"><span>90</span></div>
<div class="t" style="left:389.80px;width:45.40px;top:610.12px;height:30px;font-size:14px;color:#1e1e1e;"><span>109</span></div>
<div class="t" style="left:435.20px;width:42.90px;top:584.85px;height:30px;font-size:14px;color:#1e1e1e;"><span>118</span></div>
<div class="t" style="left:478.10px;width:43.10px;top:584.85px;height:30px;font-size:14px;color:#1e1e1e;"><span>18</span></div>
<div class="t" style="left:521.20px;width:42.30px;top:584.85px;height:30px;font-size:14px;color:#1e1e1e;"><span>100</span></div>
<div class="t" style="left:563.50px;width:42.40px;top:584.85px;height:30px;font-size:14px;color:#1e1e1e;"><span>46</span></div>
<div class="t" style="left:605.90px;width:42.60px;top:584.85px;height:30px;font-size:14px;color:#1e1e1e;"><span>92</span></div>
<div class="t" style="left:648.50px;width:51.60px;top:584.85px;height:30px;font-size:14px;color:#1e1e1e;"><span>II</span></div>
<div class="t" style="left:700.10px;width:44.80px;top:584.85px;height:30px;font-size:14px;color:#1e1e1e;"><span>20</span></div>
<div class="t" style="left:744.90px;width:60.60px;top:584.85px;height:30px;font-size:14px;color:#1e1e1e;"><span>M8x1P</span></div>
<div class="t" style="left:805.50px;width:57.60px;top:584.85px;height:30px;font-size:14px;color:#1e1e1e;"><span>11</span></div>
<div class="t" style="left:863.10px;width:60.20px;top:559.58px;height:30px;font-size:14px;color:#1e1e1e;"><span>119</span></div>
<div class="t" style="left:863.10px;width:60.20px;top:584.85px;height:30px;font-size:14px;color:#1e1e1e;"><span>119</span></div>
<div class="t" style="left:863.10px;width:60.20px;top:610.12px;height:30px;font-size:14px;color:#1e1e1e;"><span>119</span></div>
<div class="t" style="left:57.60px;width:40.70px;top:635.05px;height:30px;font-size:14px;color:#1e1e1e;"><span>12</span></div>
<div class="t" style="left:98.30px;width:46.70px;top:635.05px;height:30px;font-size:14px;color:#1e1e1e;"><span>6.35</span></div>
<div class="t" style="left:145.00px;width:44.20px;top:635.05px;height:30px;font-size:14px;color:#1e1e1e;"><span>5</span></div>
<div class="t" style="left:189.20px;width:83.40px;top:635.05px;height:30px;font-size:14px;color:#1e1e1e;"><span>7340</span></div>
<div class="t" style="left:272.60px;width:73.10px;top:635.05px;height:30px;font-size:14px;color:#1e1e1e;"><span>25280</span></div>
<div class="t" style="left:345.70px;width:44.10px;top:635.05px;height:30px;font-size:14px;color:#1e1e1e;"><span>80</span></div>
<div class="t" style="left:389.80px;width:45.40px;top:635.05px;height:30px;font-size:14px;color:#1e1e1e;"><span>96</span></div>
<div class="t" style="left:435.20px;width:42.90px;top:635.05px;height:30px;font-size:14px;color:#1e1e1e;"><span>118</span></div>
<div class="t" style="left:478.10px;width:43.10px;top:635.05px;height:30px;font-size:14px;color:#1e1e1e;"><span>18</span></div>
<div class="t" style="left:521.20px;width:42.30px;top:635.05px;height:30px;font-size:14px;color:#1e1e1e;"><span>100</span></div>
<div class="t" style="left:563.50px;width:42.40px;top:635.05px;height:30px;font-size:14px;color:#1e1e1e;"><span>46</span></div>
<div class="t" style="left:605.90px;width:42.60px;top:635.05px;height:30px;font-size:14px;color:#1e1e1e;"><span>92</span></div>
<div class="t" style="left:648.50px;width:51.60px;top:635.05px;height:30px;font-size:14px;color:#1e1e1e;"><span>II</span></div>
<div class="t" style="left:700.10px;width:44.80px;top:635.05px;height:30px;font-size:14px;color:#1e1e1e;"><span>20</span></div>
<div class="t" style="left:744.90px;width:60.60px;top:635.05px;height:30px;font-size:14px;color:#1e1e1e;"><span>M8x1P</span></div>
<div class="t" style="left:805.50px;width:57.60px;top:635.05px;height:30px;font-size:14px;color:#1e1e1e;"><span>11</span></div>
<div class="t" style="left:863.10px;width:60.20px;top:635.05px;height:30px;font-size:14px;color:#1e1e1e;"><span>128</span></div>
<div class="t" style="left:57.60px;width:40.70px;top:660.55px;height:30px;font-size:14px;color:#1e1e1e;"><span>10</span></div>
<div class="t" style="left:98.30px;width:46.70px;top:660.55px;height:30px;font-size:14px;color:#1e1e1e;"><span>6.35</span></div>
<div class="t" style="left:145.00px;width:44.20px;top:660.55px;height:30px;font-size:14px;color:#1e1e1e;"><span>5</span></div>
<div class="t" style="left:189.20px;width:83.40px;top:660.55px;height:30px;font-size:14px;color:#1e1e1e;"><span>7800</span></div>
<div class="t" style="left:272.60px;width:73.10px;top:660.55px;height:30px;font-size:14px;color:#1e1e1e;"><span>29210</span></div>
<div class="t" style="left:345.70px;width:44.10px;top:660.55px;height:30px;font-size:14px;color:#1e1e1e;"><span>88</span></div>
<div class="t" style="left:389.80px;width:45.40px;top:660.55px;height:30px;font-size:14px;color:#1e1e1e;"><span>84</span></div>
<div class="t" style="left:435.20px;width:42.90px;top:660.55px;height:30px;font-size:14px;color:#1e1e1e;"><span>135</span></div>
<div class="t" style="left:478.10px;width:43.10px;top:660.55px;height:30px;font-size:14px;color:#1e1e1e;"><span>22</span></div>
<div class="t" style="left:521.20px;width:42.30px;top:660.55px;height:30px;font-size:14px;color:#1e1e1e;"><span>115</span></div>
<div class="t" style="left:563.50px;width:42.40px;top:660.55px;height:30px;font-size:14px;color:#1e1e1e;"><span>50</span></div>
<div class="t" style="left:605.90px;width:42.60px;top:660.55px;height:30px;font-size:14px;color:#1e1e1e;"><span>100</span></div>
<div class="t" style="left:648.50px;width:51.60px;top:660.55px;height:30px;font-size:14px;color:#1e1e1e;"><span>II</span></div>
<div class="t" style="left:700.10px;width:44.80px;top:660.55px;height:30px;font-size:14px;color:#1e1e1e;"><span>20</span></div>
<div class="t" style="left:744.90px;width:60.60px;top:660.55px;height:30px;font-size:14px;color:#1e1e1e;"><span>M8x1P</span></div>
<div class="t" style="left:805.50px;width:57.60px;top:660.55px;height:30px;font-size:14px;color:#1e1e1e;"><span>14</span></div>
<div class="t" style="left:863.10px;width:60.20px;top:660.55px;height:30px;font-size:14px;color:#1e1e1e;"><span>141</span></div>
<div class="n" style="right:7px;top:0.5px;font-size:13px;line-height:16px;letter-spacing:-0.2px;color:#1e1e1e;-webkit-text-stroke:0.15px currentColor">单位：mm</div>
<div class="n" style="left:9.5px;top:696px;font-size:13px;line-height:18px;letter-spacing:-0.07px;color:#1e1e1e;-webkit-text-stroke:0.15px currentColor">注：Cam与Coam分别表示修正后的动态与静态负载，其计算方式依ISO-3408-5的标准。</div>
</body></html>
